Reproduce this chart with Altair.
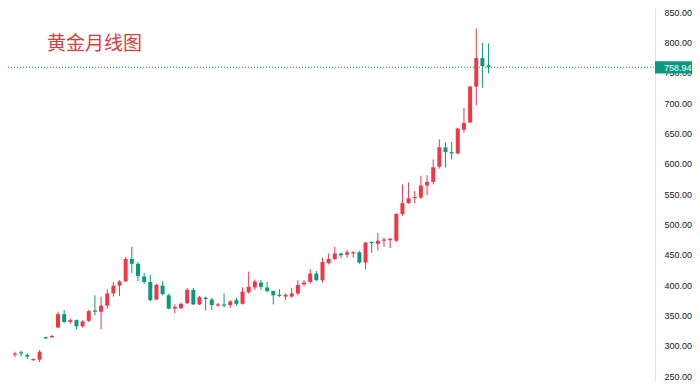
import altair as alt
import pandas as pd

# Monthly gold candles (index order, left to right)
opens = [285, 289, 285, 276, 277, 314, 314, 330, 352, 339,
         342, 332, 341, 358, 356, 366, 386, 399, 406, 443,
         435, 414, 405, 376, 399, 383, 361, 362, 370, 392,
         368, 379, 376, 366, 368, 367, 375, 369, 388, 396,
         404, 396, 390, 384, 381, 381, 386, 401, 405, 419,
         408, 436, 443, 452, 450, 452, 454, 437, 471, 468,
         473, 474, 473, 517, 535, 543, 544, 564, 570, 595,
         627, 619, 617, 656, 668, 727, 774, 762]
highs = [290, 292, 287, 279, 293, 315, 318, 356, 359, 345,
         343, 342, 359, 383, 381, 393, 405, 408, 446, 463,
         438, 420, 417, 402, 406, 386, 368, 371, 395, 395,
         382, 381, 379, 371, 386, 375, 379, 396, 422, 409,
         408, 405, 391, 393, 386, 395, 408, 408, 426, 423,
         445, 452, 463, 453, 458, 456, 456, 471, 472, 486,
         478, 478, 519, 566, 569, 555, 580, 581, 607, 640,
         635, 636, 659, 692, 728, 823, 799, 798]
lows = [281, 283, 278, 275, 273, 311, 313, 329, 337, 336,
        327, 330, 339, 350, 327, 361, 381, 382, 405, 420,
        406, 402, 373, 375, 383, 360, 353, 360, 369, 367,
        367, 358, 359, 364, 363, 362, 365, 368, 386, 392,
        392, 388, 368, 380, 375, 379, 383, 398, 402, 406,
        404, 434, 441, 444, 445, 445, 435, 426, 453, 457,
        463, 461, 471, 514, 534, 535, 542, 548, 566, 592,
        594, 607, 615, 651, 667, 696, 725, 749]
closes = [287, 287, 282, 278, 290, 312, 316, 352, 339, 342,
          332, 340, 357, 356, 366, 386, 399, 406, 443, 435,
          415, 405, 375, 400, 385, 361, 364, 369, 392, 368,
          380, 377, 367, 368, 366, 373, 369, 389, 397, 406,
          397, 390, 383, 382, 384, 386, 400, 404, 419, 408,
          438, 443, 452, 449, 454, 454, 437, 470, 469, 473,
          475, 476, 517, 535, 543, 545, 564, 570, 594, 627,
          619, 617, 658, 667, 727, 774, 761, 758.94]

title_text = "黄金月线图"
y_ticks = [250, 300, 350, 400, 450, 500, 550, 600, 650, 700, 750, 800, 850]
last_price = closes[-1]

UP = "#f23645"
DOWN = "#089981"

df = pd.DataFrame({
    "i": list(range(len(opens))),
    "open": opens, "high": highs, "low": lows, "close": closes,
})
df["dir"] = ["up" if c >= o else "down" for o, c in zip(opens, closes)]

xscale = alt.Scale(domain=[-0.32, 103.25], nice=False, zero=False)
yscale = alt.Scale(domain=[241.8, 856.6], nice=False, zero=False)
yaxis = alt.Axis(orient="right", values=y_ticks, format=".2f", title=None,
                 ticks=False, grid=False, domainColor="#e0e3eb",
                 labelColor="#131722", labelFont="Liberation Sans", labelFontSize=9,
                 labelPadding=9, labelOverlap=False, labelBound=False)
color = alt.Color("dir:N", scale=alt.Scale(domain=["up", "down"], range=[UP, DOWN]), legend=None)

base = alt.Chart(df)

wicks = base.mark_rule(strokeWidth=1).encode(
    x=alt.X("i:Q", scale=xscale, axis=None),
    y=alt.Y("low:Q", scale=yscale, axis=yaxis, title=None),
    y2="high:Q",
    color=color,
)

bodies = base.mark_bar(size=4).encode(
    x=alt.X("i:Q", scale=xscale, axis=None),
    y=alt.Y("open:Q", scale=yscale, axis=yaxis, title=None),
    y2="close:Q",
    color=color,
)

price_df = pd.DataFrame({"price": [last_price]})
pbase = alt.Chart(price_df)

price_line = pbase.mark_rule(color=DOWN, strokeDash=[1, 2], strokeWidth=1).encode(
    x=alt.value(0), x2=alt.value(647),
    y=alt.Y("price:Q", scale=yscale, axis=yaxis, title=None),
)

price_box = pbase.transform_calculate(
    top="datum.price + 10", bot="datum.price - 10.5"
).mark_rect(color=DOWN).encode(
    x=alt.value(647), x2=alt.value(684),
    y=alt.Y("top:Q", scale=yscale, axis=yaxis, title=None), y2="bot:Q",
)

price_text = pbase.mark_text(color="white", fontSize=9, font="Liberation Sans",
                             align="left", baseline="middle", dy=0.5).encode(
    x=alt.value(656),
    y=alt.Y("price:Q", scale=yscale, axis=yaxis, title=None),
    text=alt.Text("price:Q", format=".2f"),
)

title = alt.Chart(pd.DataFrame({"t": [title_text]})).mark_text(
    color="#e8383d", fontSize=19, font="Noto Sans CJK SC", align="left", baseline="middle"
).encode(x=alt.value(39), y=alt.value(36), text="t:N")

chart = alt.layer(wicks, bodies, price_line, price_box, price_text, title).properties(
    width=647, height=373,
    autosize=alt.AutoSizeParams(type="none"),
    padding={"left": 0, "top": 0, "right": 37, "bottom": 0},
).configure_view(strokeWidth=0).configure_axisY(labelOverlap=False)

chart.save("out.html", embed_options={"renderer": "svg", "actions": False})
